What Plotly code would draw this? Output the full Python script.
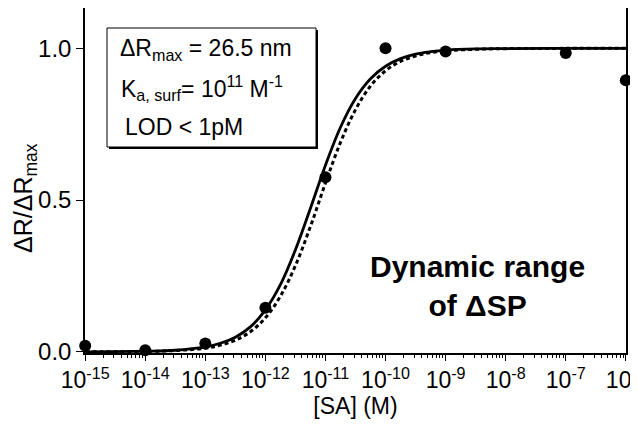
import plotly.graph_objects as go

# Measured data points
conc = [1e-15, 1e-14, 1e-13, 1e-12, 1e-11, 1e-10, 1e-9, 1e-7, 1e-6]
resp = [0.02, 0.005, 0.027, 0.145, 0.575, 1.0, 0.99, 0.985, 0.895]

# Fit curves (log10 of concentration, normalised response)
curve_logx = [-15, -14, -13.5, -13, -12.75, -12.5, -12.25, -12, -11.75, -11.5, -11.25,
              -11, -10.75, -10.5, -10.25, -10, -9.75, -9.5, -9.25, -9, -8.5, -8, -7, -6]
solid_y = [0.0, 0.002, 0.005, 0.016, 0.028, 0.048, 0.082, 0.138, 0.221, 0.336, 0.473,
           0.615, 0.740, 0.835, 0.900, 0.941, 0.966, 0.981, 0.989, 0.994, 0.998, 0.999, 1.0, 1.0]
dashed_y = [0.0, 0.001, 0.004, 0.012, 0.022, 0.038, 0.066, 0.112, 0.183, 0.284, 0.413,
            0.556, 0.690, 0.798, 0.876, 0.926, 0.957, 0.975, 0.986, 0.992, 0.997, 0.999, 1.0, 1.0]

tick_exps = list(range(-15, -5))
tick_vals = [10.0 ** e for e in tick_exps]
tick_text = ["10<sup>%d</sup>" % e for e in tick_exps]
minor_vals = [m * 10.0 ** e for e in range(-15, -6) for m in range(2, 10)]

FONT = "Liberation Sans, Arial, Helvetica, sans-serif"
curve_x = [10.0 ** v for v in curve_logx]

fig = go.Figure()
fig.add_trace(go.Scatter(x=curve_x, y=dashed_y, mode="lines", line_shape="spline",
                         line=dict(color="black", width=3, dash="4px,3px"), showlegend=False))
fig.add_trace(go.Scatter(x=curve_x, y=solid_y, mode="lines", line_shape="spline",
                         line=dict(color="black", width=2.8), showlegend=False))
fig.add_trace(go.Scatter(x=conc, y=resp, mode="markers", cliponaxis=False,
                         marker=dict(color="black", size=12), showlegend=False))

# page body has an 8px margin, so the figure is 8px smaller and offset
W, H = 630, 419
L, R, T, B = 77, 12, 0, 74
pw, ph = W - L - R, H - T - B

def px(x):
    return (x - 85) / pw

def py(y):
    return (353 - y) / ph

shapes = [
    dict(type="rect", xref="paper", yref="paper",
         x0=px(109), x1=px(318), y0=py(149), y1=py(30),
         fillcolor="black", line=dict(width=0), layer="above"),
    dict(type="rect", xref="paper", yref="paper",
         x0=px(107), x1=px(316), y0=py(147), y1=py(28),
         fillcolor="white", line=dict(color="black", width=1), layer="above"),
]

annots = [
    dict(text="ΔR<sub>max</sub> = 26.5 nm", x=px(118), y=py(49)),
    dict(text="K<sub>a, surf</sub>= 10<sup>11</sup> M<sup>-1</sup>", x=px(119), y=py(88)),
    dict(text="LOD < 1pM", x=px(123), y=py(127)),
]
annotations = []
for a in annots:
    annotations.append(dict(text=a["text"], x=a["x"], y=a["y"], xref="paper", yref="paper",
                            xanchor="left", yanchor="middle", showarrow=False,
                            font=dict(family=FONT, size=23, color="black")))
annotations.append(dict(text="<b>Dynamic range<br>of ΔSP</b>", x=px(477), y=py(286),
                        xref="paper", yref="paper", xanchor="center", yanchor="middle",
                        showarrow=False, align="center",
                        font=dict(family=FONT, size=30, color="black")))
annotations.append(dict(text="ΔR/ΔR<sub>max</sub>", x=px(25), y=py(198), textangle=-90,
                        xref="paper", yref="paper", xanchor="center", yanchor="middle",
                        showarrow=False, font=dict(family=FONT, size=25, color="black")))

fig.update_layout(
    width=W, height=H,
    margin=dict(l=L, r=R, t=T, b=B, autoexpand=False),
    paper_bgcolor="white", plot_bgcolor="white",
    font=dict(family=FONT, size=22, color="black"),
    shapes=shapes, annotations=annotations,
    xaxis=dict(type="log", range=[-15.003, -5.997], tickmode="array", tickvals=tick_vals,
               ticktext=tick_text, ticks="outside", ticklen=6, tickwidth=1.2,
               tickcolor="black", showline=True, linecolor="black", linewidth=1.5,
               mirror=True, showgrid=False, zeroline=False, automargin=False,
               ticklabeloverflow="allow",
               tickfont=dict(family=FONT, size=23),
               minor=dict(tickmode="array", tickvals=minor_vals, ticks="outside",
                          ticklen=3, tickwidth=1, tickcolor="black", showgrid=False),
               title=dict(text="[SA] (M)", font=dict(family=FONT, size=23), standoff=4)),
    yaxis=dict(range=[-0.004, 1.133], tickmode="array", tickvals=[0, 0.5, 1.0],
               ticktext=["0.0", "0.5", "1.0"], ticks="outside", ticklen=7, tickwidth=1.2,
               tickcolor="black", showline=True, linecolor="black", linewidth=1.5,
               mirror=True, showgrid=False, zeroline=False, automargin=False,
               tickfont=dict(family=FONT, size=24)),
)

fig.write_html("out.html")
